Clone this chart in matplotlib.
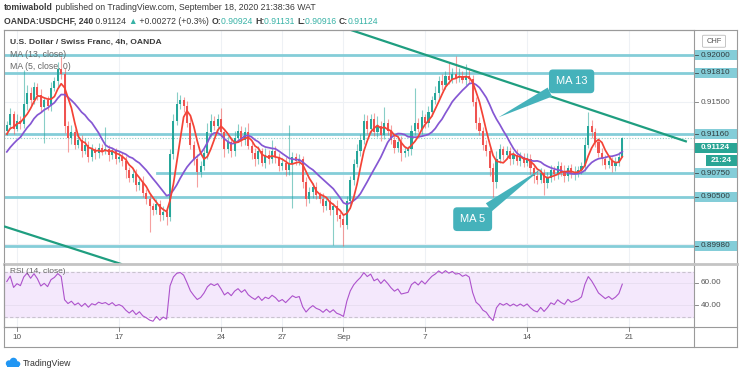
import numpy as np
import pandas as pd
import matplotlib
matplotlib.use('Agg')
import matplotlib.pyplot as plt
from matplotlib.patches import Rectangle, FancyBboxPatch, Circle
from matplotlib.transforms import IdentityTransform

plt.rcParams['font.family'] = ['Liberation Sans', 'DejaVu Sans']

# ---- data (USDCHF 4h) ----
# hidden bars before the window, only used so the MAs / RSI start filled
preroll = [0.9130, 0.9124, 0.9132, 0.9120, 0.9114, 0.9118, 0.9105, 0.9098,
           0.9102, 0.9090, 0.9084, 0.9088, 0.9076, 0.9070, 0.9082, 0.9088,
           0.9080, 0.9095, 0.9100, 0.9094, 0.9108, 0.9115, 0.9112, 0.9120]
closes = [
    0.9126, 0.9138, 0.9122, 0.9130, 0.9127, 0.9148, 0.9160, 0.9152, 0.9166, 0.9158,
    0.9145, 0.9152, 0.9146, 0.9165, 0.9172, 0.9185, 0.9180, 0.9125, 0.9112, 0.9118,
    0.9105, 0.9110, 0.9098, 0.9105, 0.9092, 0.9100, 0.9096, 0.9102, 0.9098, 0.9100,
    0.9094, 0.9098, 0.9090, 0.9092, 0.9088, 0.9078, 0.9070, 0.9074, 0.9062, 0.9066,
    0.9054, 0.9048, 0.9040, 0.9036, 0.9042, 0.9030, 0.9034, 0.9028, 0.9095, 0.9130,
    0.9148, 0.9152, 0.9146, 0.9128, 0.9105, 0.9090, 0.9076, 0.9082, 0.9096, 0.9118,
    0.9130, 0.9125, 0.9132, 0.9118, 0.9100, 0.9108, 0.9098, 0.9112, 0.9120, 0.9110,
    0.9118, 0.9104, 0.9096, 0.9090, 0.9098, 0.9086, 0.9094, 0.9090, 0.9098, 0.9092,
    0.9082, 0.9086, 0.9078, 0.9085, 0.9092, 0.9088, 0.9090, 0.9065, 0.9048, 0.9055,
    0.9060, 0.9052, 0.9048, 0.9040, 0.9045, 0.9036, 0.9040, 0.9030, 0.9026, 0.9020,
    0.9045, 0.9068, 0.9085, 0.9098, 0.9110, 0.9130, 0.9122, 0.9132, 0.9118, 0.9125,
    0.9115, 0.9128, 0.9120, 0.9110, 0.9102, 0.9108, 0.9096, 0.9098, 0.9100, 0.9120,
    0.9128, 0.9122, 0.9134, 0.9128, 0.9140, 0.9152, 0.9160, 0.9172, 0.9168, 0.9178,
    0.9174, 0.9180, 0.9176, 0.9178, 0.9174, 0.9178, 0.9175, 0.9150, 0.9128, 0.9120,
    0.9105, 0.9098, 0.9080, 0.9065, 0.9090, 0.9100, 0.9094, 0.9098, 0.9090, 0.9094,
    0.9088, 0.9092, 0.9086, 0.9090, 0.9080, 0.9072, 0.9068, 0.9075, 0.9064, 0.9070,
    0.9078, 0.9074, 0.9082, 0.9076, 0.9072, 0.9080, 0.9074, 0.9076, 0.9078, 0.9082,
    0.9105, 0.9125, 0.9118, 0.9108, 0.9096, 0.9090, 0.9084, 0.9088, 0.9082, 0.9086,
    0.90924, 0.91124]
# wick lengths beyond the body, in pips
wick_up = [
    4, 6, 3, 8, 5, 36, 8, 6, 5, 4,
    6, 4, 5, 6, 5, 8, 13, 6, 5, 8,
    4, 6, 5, 7, 4, 6, 3, 5, 4, 24,
    5, 4, 3, 6, 4, 5, 3, 6, 5, 4,
    6, 4, 5, 3, 5, 4, 6, 4, 5, 8,
    13, 6, 4, 5, 6, 4, 5, 6, 4, 10,
    8, 5, 6, 12, 4, 6, 5, 8, 7, 5,
    6, 10, 4, 5, 6, 4, 8, 5, 12, 6,
    4, 5, 6, 41, 5, 4, 5, 3, 6, 5,
    4, 5, 3, 6, 4, 5, 3, 6, 4, 5,
    6, 4, 5, 8, 6, 8, 6, 5, 7, 10,
    5, 17, 4, 6, 5, 4, 6, 5, 4, 6,
    37, 5, 8, 4, 6, 5, 7, 6, 8, 5,
    15, 6, 19, 8, 5, 12, 6, 4, 5, 6,
    4, 5, 3, 6, 8, 6, 4, 6, 5, 4,
    6, 5, 4, 6, 5, 4, 6, 5, 4, 6,
    5, 4, 6, 5, 8, 4, 5, 6, 4, 5,
    8, 15, 6, 5, 4, 6, 4, 5, 4, 6, 5, 0.7]
wick_dn = [
    5, 4, 6, 3, 5, 4, 6, 5, 4, 6,
    5, 38, 4, 5, 3, 6, 5, 8, 15, 6,
    5, 4, 6, 3, 5, 4, 6, 5, 4, 3,
    6, 4, 5, 3, 6, 8, 5, 4, 6, 5,
    4, 6, 28, 5, 4, 6, 5, 8, 4, 5,
    4, 5, 6, 4, 5, 6, 16, 5, 4, 6,
    5, 4, 6, 5, 8, 4, 6, 5, 4, 6,
    5, 4, 6, 8, 5, 4, 6, 5, 4, 6,
    5, 4, 6, 5, 47, 5, 4, 6, 8, 5,
    6, 4, 5, 6, 4, 5, 37, 6, 8, 22,
    4, 5, 6, 4, 5, 4, 6, 5, 4, 5,
    6, 4, 5, 4, 6, 5, 8, 4, 5, 6,
    5, 4, 6, 5, 4, 5, 4, 6, 5, 4,
    5, 4, 6, 5, 4, 6, 5, 4, 6, 5,
    6, 5, 8, 15, 6, 4, 5, 4, 6, 5,
    4, 6, 5, 4, 6, 8, 5, 4, 12, 5,
    4, 6, 5, 4, 6, 5, 4, 6, 5, 4,
    5, 4, 6, 5, 4, 6, 5, 4, 6, 5, 4, 0.8]

tick_idx = [3, 33, 63, 81, 99, 123, 153, 183]
tick_lab = ['10', '17', '24', '27', 'Sep', '7', '14', '21']

levels = [0.92000, 0.91810, 0.91160, 0.90750, 0.90500, 0.89980]
level_txt = ['0.92000', '0.91810', '0.91160', '0.90750', '0.90500', '0.89980']
level_start = [None, None, None, 44.2, None, None]
last_price = 0.91124

# trend lines (bar index, price)
upper_tl = ([101.2, 200.0], [0.922648, 0.910817])
lower_tl = ([-0.8, 33.9], [0.90185, 0.897831])

# ---- colours ----
GREEN = '#26a69a'
RED = '#ef5350'
LVL = '#84cdd8'
TL = '#1f9e80'
MA13C = '#8557d3'
MA5C = '#f44336'
CALL = '#45b2bb'
GRID = '#eef1f5'
TXT = '#3a3a3a'
AX = '#9a9a9a'

W, H = 740, 373
fig = plt.figure(figsize=(W / 100, H / 100), dpi=100)
fig.patch.set_facecolor('white')


def rect(l, t, r, b):
    return [l / W, 1 - b / H, (r - l) / W, (b - t) / H]


ax = fig.add_axes(rect(4, 30, 693.7, 264.3))
rx = fig.add_axes(rect(4, 264.3, 693.7, 327.3))

allc = np.array(preroll + closes)
npre = len(preroll)
c = np.array(closes)
o = allc[npre - 1:-1]
idx = np.arange(len(c))
top = np.maximum(o, c)
bot = np.minimum(o, c)
hi = top + np.array(wick_up) * 1e-4
lo = bot - np.array(wick_dn) * 1e-4
col = np.where(c >= o, GREEN, RED)

s = pd.Series(allc)
ma13 = s.rolling(13).mean().values[npre:]
ma5 = s.rolling(5).mean().values[npre:]
d = s.diff()
gain = d.clip(lower=0).ewm(alpha=1 / 14, adjust=True).mean()
loss = (-d.clip(upper=0)).ewm(alpha=1 / 14, adjust=True).mean()
rsi = (100 - 100 / (1 + gain / loss)).values[npre:]

# ---- price pane ----
ax.set_xlim(-0.82, 202.0)
ax.set_ylim(0.897831, 0.922648)
for g in [0.900, 0.905, 0.910, 0.915, 0.920]:
    ax.axhline(g, color=GRID, lw=0.8, zorder=0)
for t in tick_idx:
    ax.axvline(t, color=GRID, lw=0.8, zorder=0)
    rx.axvline(t, color=GRID, lw=0.8, zorder=0)

for lv, st in zip(levels, level_start):
    if st is None:
        ax.axhline(lv, color=LVL, lw=2.0, zorder=1)
    else:
        ax.plot([st, 202], [lv, lv], color=LVL, lw=2.0, zorder=1)
ax.axhline(last_price, color='#8fd0c8', lw=0.8, ls=(0, (1, 1.5)), zorder=1)

ax.vlines(idx, lo, hi, colors=col, lw=0.8, alpha=0.55, zorder=2)
ax.bar(idx, np.maximum(top - bot, 0.00004), bottom=bot, width=0.62,
       color=col, lw=0, zorder=3)
ax.plot(idx, ma13, color=MA13C, lw=1.25, zorder=4)
ax.plot(idx, ma5, color=MA5C, lw=1.25, zorder=4)

ax.plot(*upper_tl, color=TL, lw=1.6, zorder=5, solid_capstyle='butt')
ax.plot(*lower_tl, color=TL, lw=1.6, zorder=5, solid_capstyle='butt')

for txt, tip, box in [('MA 13', (144.6, 0.91340), (166.1, 0.91721)),
                      ('MA 5', (157.4, 0.90800), (137.0, 0.90261))]:
    ax.annotate(txt, xy=tip, xytext=box, ha='center', va='center',
                color='white', fontsize=8, zorder=7,
                bbox=dict(boxstyle='round,pad=0.62,rounding_size=0.35',
                          fc=CALL, ec='none'),
                arrowprops=dict(arrowstyle='wedge,tail_width=0.9,shrink_factor=0.5',
                                fc=CALL, ec='none', shrinkA=0, shrinkB=0))

ax.set_xticks([])
ax.set_yticks([])
for sp in ax.spines.values():
    sp.set_color(AX)
    sp.set_linewidth(0.8)

ax.text(6 / 692, 1 - 12 / 234, 'U.S. Dollar / Swiss Franc, 4h, OANDA',
        transform=ax.transAxes, fontsize=6.1, color=TXT, fontweight='bold',
        va='center', zorder=8)
ax.text(6 / 692, 1 - 24.5 / 234, 'MA (13, close)', transform=ax.transAxes,
        fontsize=6.3, color='#666666', va='center', zorder=8)
ax.text(6 / 692, 1 - 36.5 / 234, 'MA (5, close, 0)', transform=ax.transAxes,
        fontsize=6.3, color='#666666', va='center', zorder=8)

# ---- RSI pane ----
rx.set_xlim(-0.82, 202.0)
rx.set_ylim(20.6, 76.6)
rx.axhspan(30, 70, color='#f4e8fc', zorder=0)
rx.axhline(70, color='#c9c3cf', lw=0.8, ls=(0, (3, 2)), zorder=1)
rx.axhline(30, color='#c9c3cf', lw=0.8, ls=(0, (3, 2)), zorder=1)
rx.axhline(60, color='#e6ddef', lw=0.6, zorder=1)
rx.axhline(40, color='#e6ddef', lw=0.6, zorder=1)
rx.plot(idx, rsi, color='#ad52cc', lw=0.8, zorder=3)
rx.set_xticks([])
rx.set_yticks([])
for sp in rx.spines.values():
    sp.set_color(AX)
    sp.set_linewidth(0.8)
rx.spines['top'].set_color('#c4c4c4')
rx.spines['top'].set_linewidth(2.0)
rx.text(6 / 692, 1 - 7 / 63, 'RSI (14, close)', transform=rx.transAxes,
        fontsize=6.0, color='#666666', va='center')

# ---- frame: price scale, time scale ----
def fline(x0, y0, x1, y1, **kw):
    fig.add_artist(plt.Line2D([x0 / W, x1 / W], [1 - y0 / H, 1 - y1 / H], **kw))


fline(4, 30, 737, 30, color=AX, lw=0.8)
fline(737, 30, 737, 347.3, color=AX, lw=0.8)
fline(4, 347.3, 737, 347.3, color=AX, lw=0.8)
fline(4, 264.3, 4, 347.3, color=AX, lw=0.8)
fline(693.7, 264.3, 737, 264.3, color='#c4c4c4', lw=2.0)
fline(4, 327.3, 737, 327.3, color=AX, lw=0.8)
fline(693.7, 327.3, 693.7, 347.3, color=AX, lw=0.8)

fig.canvas.draw()


def ypx(p, a=ax):
    return H - a.transData.transform((0, p))[1]


def xpx(i):
    return ax.transData.transform((i, 0))[0]


def pbox(yc, text, fc, tc, x0=694.5, bold=False):
    fig.add_artist(Rectangle((x0 / W, 1 - (yc + 5) / H), (737 - x0) / W, 10 / H,
                             transform=fig.transFigure, fc=fc, ec='none'))
    fig.text((x0 + 6) / W, 1 - yc / H, text, fontsize=5.9, color=tc,
             va='center', ha='left', fontweight='bold' if bold else 'normal')


for lv, t in zip(levels, level_txt):
    y = ypx(lv)
    pbox(y, t, LVL, '#2f3b3d')
    fline(694.5, y, 698, y, color='#3a4a4c', lw=0.6)
y = ypx(0.915)
fline(694.5, y, 698, y, color='#777777', lw=0.6)
fig.text(700.5 / W, 1 - y / H, '0.91500', fontsize=5.9, color='#555555', va='center')
pbox(147.7, '0.91124', '#2aa595', 'white', bold=True)
fig.add_artist(Rectangle((706 / W, 1 - 166 / H), 31 / W, 11 / H,
                         transform=fig.transFigure, fc='#2aa595', ec='none'))
fig.text(721.5 / W, 1 - 160.5 / H, '21:24', fontsize=5.9, color='white',
         va='center', ha='center', fontweight='bold')
fig.add_artist(FancyBboxPatch((704 / W, 1 - 46.5 / H), 20 / W, 10.5 / H,
                              boxstyle='round,pad=0.002', transform=fig.transFigure,
                              fc='white', ec='#bbbbbb', lw=0.6))
fig.text(714 / W, 1 - 41.5 / H, 'CHF', fontsize=5.4, color='#555555',
         va='center', ha='center')

for v in [60, 40]:
    y = ypx(v, rx)
    fline(694.5, y, 698, y, color='#777777', lw=0.6)
    fig.text(700.5 / W, 1 - y / H, '%.2f' % v, fontsize=5.9, color='#555555', va='center')

for t, lab in zip(tick_idx, tick_lab):
    x = xpx(t)
    fline(x, 327.3, x, 330.5, color='#777777', lw=0.6)
    fig.text(x / W, 1 - 337.5 / H, lab, fontsize=5.9, color='#555555',
             ha='center', va='center')

# ---- header ----
r = fig.canvas.get_renderer()


def chain(x, y, parts, size=6.3):
    for s_, color, bold in parts:
        t = fig.text(x / W, 1 - y / H, s_, fontsize=size, color=color, va='center',
                     fontweight='bold' if bold else 'normal')
        x += t.get_window_extent(renderer=r).width


TEAL = '#38b2a6'
chain(4, 8, [('tomiwabold', TXT, True),
             (' published on TradingView.com, September 18, 2020 21:38:36 WAT', TXT, False)])
chain(4, 21, [('OANDA:USDCHF, 240', TXT, True), (' 0.91124 ', TXT, False),
              ('\u25b2', TEAL, False), (' +0.00272 (+0.3%) ', TXT, False),
              ('O:', TXT, True), ('0.90924 ', TEAL, False),
              ('H:', TXT, True), ('0.91131 ', TEAL, False),
              ('L:', TXT, True), ('0.90916 ', TEAL, False),
              ('C:', TXT, True), ('0.91124', TEAL, False)], size=6.25)

# ---- footer logo ----
for cx, cy, rr in [(9, 363.5, 3.2), (13.5, 361.5, 3.8), (17.5, 364, 2.8)]:
    fig.add_artist(Circle((cx, H - cy), rr, transform=IdentityTransform(),
                          fc='#2196f3', ec='none'))
fig.add_artist(Rectangle((7, H - 367), 12, 4, transform=IdentityTransform(),
                         fc='#2196f3', ec='none'))
fig.text(23 / W, 1 - 364 / H, 'TradingView', fontsize=6.3, color='#333333', va='center')

fig.savefig('out.png', dpi=100)
